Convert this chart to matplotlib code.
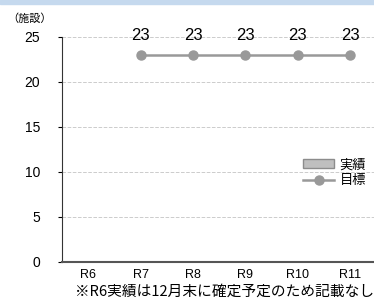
import numpy as np
import matplotlib.pyplot as plt
from matplotlib.patches import Rectangle

plt.rcParams['font.family'] = ['Liberation Sans', 'Noto Sans CJK JP', 'DejaVu Sans']

# データ
years = ["R6", "R7", "R8", "R9", "R10", "R11"]
actual = [np.nan, np.nan, np.nan, np.nan, np.nan, np.nan]
target = [np.nan, 23, 23, 23, 23, 23]

fig = plt.figure(figsize=(3.74, 3.02), dpi=100)
# 上部の水色の帯
fig.patches.append(Rectangle((0, 0.986), 1, 0.014, transform=fig.transFigure,
                             color="#c5d9ee", zorder=0))

ax = fig.add_axes([0.1666, 0.1325, 0.8334, 0.745])
x = np.arange(len(years))

bars = ax.bar(x, np.nan_to_num(actual), width=0.5, color="#bfbfbf",
              edgecolor="#8c8c8c", label="実績")
line, = ax.plot(x, target, color="#999999", lw=1.8, marker="o", ms=6.5,
                label="目標")

for xi, v in zip(x, target):
    if not np.isnan(v):
        ax.text(xi, 24.3, f"{v:.0f}", ha="center", va="bottom", fontsize=12,
                clip_on=False)

ax.set_xlim(-0.5, 5.46)
ax.set_ylim(0, 25)
ax.set_yticks([0, 5, 10, 15, 20, 25])
ax.set_xticks(x)
ax.set_xticklabels(years, fontsize=9)
ax.tick_params(axis="y", labelsize=10, length=3, pad=13)
ax.tick_params(axis="x", length=0, pad=5)
ax.grid(axis="y", color="#cccccc", ls="--", lw=0.7)
ax.set_axisbelow(True)
for s in ["top", "right"]:
    ax.spines[s].set_visible(False)
ax.spines["left"].set_color("#333333")
ax.spines["bottom"].set_color("#555555")
ax.spines["bottom"].set_linewidth(1.5)

ax.legend([bars, line], ["実績", "目標"], loc="upper left",
          bbox_to_anchor=(0.75, 0.49), frameon=False,
          prop={"family": ["Noto Sans CJK JP"], "size": 9.5},
          handlelength=2.4, handleheight=0.6, handletextpad=0.4,
          labelspacing=0.2, borderpad=0)

fig.text(0.02, 0.94, "（施設）", fontsize=8, ha="left", va="center",
         family=["Noto Sans CJK JP"])
fig.text(1.0, 0.035, "※R6実績は12月末に確定予定のため記載なし", fontsize=10.6,
         ha="right", va="center", family=["Noto Sans CJK JP"])

fig.savefig("out.png", dpi=100)
